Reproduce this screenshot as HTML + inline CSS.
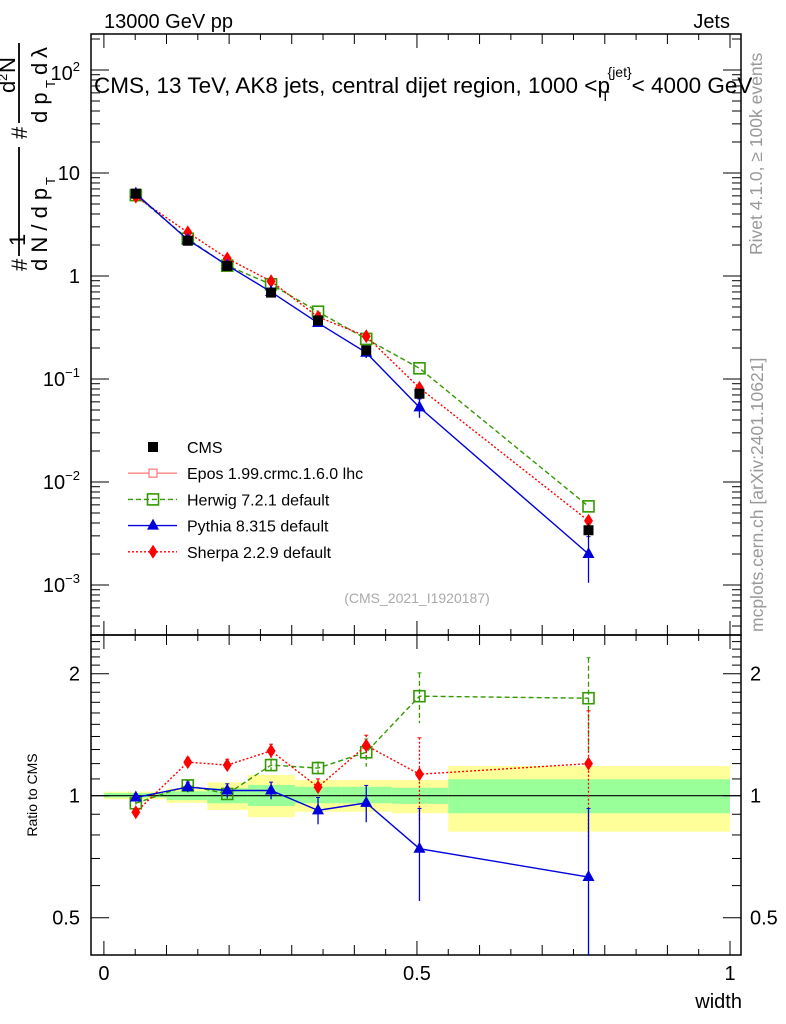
<!DOCTYPE html>
<html><head><meta charset="utf-8"><style>
html,body{margin:0;padding:0;background:#fff;}
svg{display:block;font-family:"Liberation Sans",sans-serif;}
</style></head><body>
<svg id="c" width="786" height="1024" viewBox="0 0 786 1024" xmlns="http://www.w3.org/2000/svg">
<text x="104" y="28" font-size="20">13000 GeV pp</text>
<text x="730" y="28" font-size="20" text-anchor="end">Jets</text>
<g transform="translate(762,255) rotate(-90)"><text font-size="17.5" fill="#999">Rivet 4.1.0, ≥ 100k events</text></g>
<g transform="translate(763,632) rotate(-90)"><text font-size="17.5" fill="#999">mcplots.cern.ch [arXiv:2401.10621]</text></g>
<g id="ylab" font-size="22">
 <g transform="translate(27,271) rotate(-90)">
  <text x="0" y="0">#</text>
  <text x="25" y="-2">1</text>
  <line x1="15" y1="-8" x2="124" y2="-8" stroke="#000" stroke-width="1.8"/>
  <text x="0" y="20">d N / d p</text><text x="86" y="28" font-size="13">T</text>
  <text x="132" y="0">#</text>
  <text x="178" y="-12">d</text><text x="190" y="-20" font-size="13">2</text><text x="198" y="-12">N</text>
  <line x1="148" y1="-8" x2="228" y2="-8" stroke="#000" stroke-width="1.8"/>
  <text x="148" y="20">d p</text><text x="183" y="28" font-size="13">T</text><text x="196" y="20">d</text><text x="213" y="20">λ</text>
 </g>
</g>
<text x="80" y="80" font-size="20" text-anchor="end">10<tspan font-size="13" dy="-9">2</tspan></text>
<text x="94" y="93" font-size="22.5">CMS, 13 TeV, AK8 jets, central dijet region, 1000 &lt;p<tspan font-size="14" dy="8" dx="-9">T</tspan><tspan font-size="14" dy="-24" dx="-2">{jet}</tspan><tspan dy="16">&lt; 4000 GeV</tspan></text>
<text x="417" y="603" font-size="14" fill="#aaa" text-anchor="middle">(CMS_2021_I1920187)</text>
<g transform="translate(37,795) rotate(-90)"><text font-size="14" text-anchor="middle">Ratio to CMS</text></g>
<text x="742" y="1008" font-size="20" text-anchor="end">width</text>
<g id="plot"></g>
</svg>
<script>
const xs=[0.051,0.134,0.197,0.267,0.342,0.419,0.504,0.774];
const cmsVals=[6.3,2.2,1.25,0.69,0.37,0.19,0.072,0.0034];
const cmsErr=[0.1,0.05,0.03,0.02,0.01,0.008,0.005,0.0006];
const herwigVals=[6.1,2.3,1.26,0.83,0.45,0.245,0.127,0.0058];
const pythiaVals=[6.3,2.25,1.27,0.70,0.35,0.18,0.053,0.002];
const pythiaErr=[0.1,0.05,0.03,0.03,0.02,0.02,0.011,0.00095];
const sherpaVals=[5.9,2.65,1.48,0.89,0.40,0.26,0.082,0.0042];
const herwigRatio=[0.958,1.06,1.01,1.19,1.17,1.28,1.76,1.74];
const herwigRErr=[0.02,0.03,0.04,0.04,0.04,0.1,0.25,0.45];
const pythiaRatio=[0.99,1.05,1.03,1.03,0.92,0.96,0.74,0.63];
const pythiaRErr=[0.02,0.03,0.04,0.05,0.07,0.1,0.19,0.3];
const sherpaRatio=[0.91,1.21,1.19,1.29,1.05,1.33,1.13,1.2];
const sherpaRErr=[0.02,0.03,0.04,0.05,0.05,0.08,0.26,0.42];
const bandEdges=[0,0.10,0.165,0.23,0.305,0.38,0.46,0.55,1.0];
const yellowLo=[0.98,0.96,0.922,0.885,0.913,0.913,0.905,0.815];
const yellowHi=[1.023,1.04,1.079,1.125,1.093,1.093,1.093,1.184];
const greenLo=[0.99,0.975,0.958,0.943,0.958,0.958,0.955,0.905];
const greenHi=[1.015,1.025,1.043,1.063,1.052,1.052,1.046,1.098];

const NS="http://www.w3.org/2000/svg";
const g=document.getElementById('plot');
const L=91,R=741,T=34,MB=635,RB=955;
const X=v=>103.9+v*626.1;
const Y=v=>276-Math.log10(v)*103;
const RY=v=>795.7-Math.log2(v)*122;
function el(t,a,p){const e=document.createElementNS(NS,t);for(const k in a)e.setAttribute(k,a[k]);(p||g).appendChild(e);return e;}

for(let i=0;i<yellowLo.length;i++){
 const r1=el('rect',{x:X(bandEdges[i]),y:RY(yellowHi[i]),width:X(bandEdges[i+1])-X(bandEdges[i]),height:RY(yellowLo[i])-RY(yellowHi[i]),fill:'#ffff99'});
 
 
 const r2=el('rect',{x:X(bandEdges[i]),y:RY(greenHi[i]),width:X(bandEdges[i+1])-X(bandEdges[i]),height:RY(greenLo[i])-RY(greenHi[i]),fill:'#99ff99'});
 
 
}
el('line',{x1:L,x2:R,y1:RY(1),y2:RY(1),stroke:'#000','stroke-width':1.2});

const f1=el('rect',{x:L,y:T,width:R-L,height:MB-T,fill:'none',stroke:'#000','stroke-width':1.5});


const f2=el('rect',{x:L,y:MB,width:R-L,height:RB-MB,fill:'none',stroke:'#000','stroke-width':1.5});



for(let k=0;k<=20;k++){const v=k*0.05,x=X(v);const len=k%10==0?14:(k%2==0?10:6);
 for(const [y0,dir] of [[T,1],[MB,-1],[MB,1],[RB,-1]]) el('line',{x1:x,x2:x,y1:y0,y2:y0+dir*len,stroke:'#000'});
}
['0','0.5','1'].forEach((s,i)=>{const t=el('text',{x:X(i*0.5),y:980,'font-size':20,'text-anchor':'middle'});t.textContent=s;
 
 });

for(let d=-4;d<=2;d++){for(let m=1;m<=9;m++){const v=m*Math.pow(10,d),y=Y(v);if(y<T||y>MB)continue;const len=m==1?18:9;
 el('line',{x1:L,x2:L+len,y1:y,y2:y,stroke:'#000'});el('line',{x1:R,x2:R-len,y1:y,y2:y,stroke:'#000'});}}
const ylabs=[[10,'10'],[1,'1']];
ylabs.forEach(([v,s])=>{const t=el('text',{x:80,y:Y(v)+7,'font-size':20,'text-anchor':'end'});t.textContent=s;
 
 });
[-1,-2,-3].forEach(d=>{const t=el('text',{x:80,y:Y(Math.pow(10,d))+7,'font-size':20,'text-anchor':'end'});
 t.innerHTML='10<tspan font-size="13" dy="-9">−'+(-d)+'</tspan>';
 
 });

for(let v=0.4;v<=2.45;v+=0.1){const y=RY(v);if(y<MB||y>RB)continue;const major=[0.5,1,2].some(m=>Math.abs(m-v)<1e-6);const len=major?18:9;
 el('line',{x1:L,x2:L+len,y1:y,y2:y,stroke:'#000'});el('line',{x1:R,x2:R-len,y1:y,y2:y,stroke:'#000'});}
[[2,'2'],[1,'1'],[0.5,'0.5']].forEach(([v,s])=>{
 const t=el('text',{x:80,y:RY(v)+7,'font-size':20,'text-anchor':'end'});t.textContent=s;
 
 
 const t2=el('text',{x:750,y:RY(v)+7,'font-size':20});t2.textContent=s;
 
 });

function marker(type,x,y,col,name){
 let m;
 if(type=='sq') m=el('rect',{x:x-5,y:y-5,width:10,height:10,fill:'#000'});
 else if(type=='osq') m=el('rect',{x:x-5.5,y:y-5.5,width:11,height:11,fill:'#fff','fill-opacity':0.01,stroke:col,'stroke-width':1.6});
 else if(type=='tri') m=el('polygon',{points:`${x},${y-7} ${x-6},${y+4} ${x+6},${y+4}`,fill:col});
 else if(type=='dia') m=el('polygon',{points:`${x},${y-7} ${x-4.5},${y} ${x},${y+7} ${x+4.5},${y}`,fill:col});
 else if(type=='cross'){m=el('g',{});el('rect',{x:x-4,y:y-4,width:8,height:8,fill:'#fff',stroke:col,'stroke-width':1.3},m);}
 
 
}
function series(vals,errs,yf,col,dash,type,name){
 const pts=xs.map((x,i)=>X(x)+','+yf(vals[i])).join(' ');
 const pl=el('polyline',{points:pts,fill:'none',stroke:col,'stroke-width':1.4,'stroke-dasharray':dash});
 
 
 xs.forEach((x,i)=>{
  if(errs){const lo=Math.max(vals[i]-errs[i],1e-9);let y1=yf(vals[i]+errs[i]),y2=Math.min(yf(lo),yf===RY?RB:MB);
   el('line',{x1:X(x),x2:X(x),y1:y1,y2:y2,stroke:col,'stroke-width':1.3,'stroke-dasharray':dash});
   el('line',{x1:X(x)-2,x2:X(x)+2,y1:y1,y2:y1,stroke:col});}
  marker(type,X(x),yf(vals[i]),col,name+'-point');
 });
}
series(herwigVals,null,Y,'#339900','5,3','osq','herwig');
series(sherpaVals,null,Y,'#ff0000','2,2','dia','sherpa');
series(pythiaVals,pythiaErr,Y,'#0000dd','','tri','pythia');
xs.forEach((x,i)=>{el('line',{x1:X(x),x2:X(x),y1:Y(cmsVals[i]+cmsErr[i]),y2:Y(cmsVals[i]-cmsErr[i]),stroke:'#000'});marker('sq',X(x),Y(cmsVals[i]),'#000','cms-point');});
series(herwigRatio,herwigRErr,RY,'#339900','5,3','osq','herwig-ratio');
series(sherpaRatio,sherpaRErr,RY,'#ff0000','2,2','dia','sherpa-ratio');
series(pythiaRatio,pythiaRErr,RY,'#0000dd','','tri','pythia-ratio');

const leg=[['CMS','#000','','sq',false],['Epos 1.99.crmc.1.6.0 lhc','#ff8080','','cross',true],['Herwig 7.2.1 default','#339900','5,3','osq',true],['Pythia 8.315 default','#0000dd','','tri',true],['Sherpa 2.2.9 default','#ff0000','2,2','dia',true]];
leg.forEach((e,i)=>{const y=447+i*26.2;
 if(e[4]){const l=el('line',{x1:128,x2:177,y1:y,y2:y,stroke:e[1],'stroke-width':1.4,'stroke-dasharray':e[2]});}
 marker(e[3],153,y,e[1],'legend-marker');
 const t=el('text',{x:187,y:y+6,'font-size':16});t.textContent=e[0];
 
 
});
</script>
</body></html>
